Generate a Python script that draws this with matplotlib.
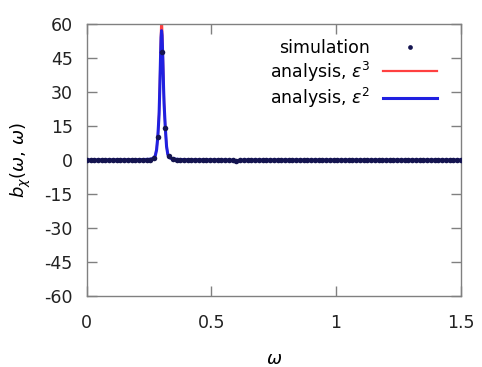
import matplotlib
matplotlib.use("Agg")
import matplotlib.pyplot as plt

# simulation points
sim_omega = [0.0, 0.015, 0.03, 0.045, 0.06, 0.075, 0.09, 0.105, 0.12, 0.135,
             0.15, 0.165, 0.18, 0.195, 0.21, 0.225, 0.24, 0.255, 0.27, 0.285,
             0.3, 0.315, 0.33, 0.345, 0.36, 0.375, 0.39, 0.405, 0.42, 0.435,
             0.45, 0.465, 0.48, 0.495, 0.51, 0.525, 0.54, 0.555, 0.57, 0.585,
             0.6, 0.615, 0.63, 0.645, 0.66, 0.675, 0.69, 0.705, 0.72, 0.735,
             0.75, 0.765, 0.78, 0.795, 0.81, 0.825, 0.84, 0.855, 0.87, 0.885,
             0.9, 0.915, 0.93, 0.945, 0.96, 0.975, 0.99, 1.005, 1.02, 1.035,
             1.05, 1.065, 1.08, 1.095, 1.11, 1.125, 1.14, 1.155, 1.17, 1.185,
             1.2, 1.215, 1.23, 1.245, 1.26, 1.275, 1.29, 1.305, 1.32, 1.335,
             1.35, 1.365, 1.38, 1.395, 1.41, 1.425, 1.44, 1.455, 1.47, 1.485, 1.5]
sim_values = [0, 0, 0, 0, 0, 0, 0, 0, 0, 0,
              0, 0, 0, 0, 0, 0, 0.05, 0.1, 0.8, 10.3,
              47.8, 14.2, 1.6, 0.3, 0.1, 0, 0, 0, 0, 0,
              0, 0, 0, 0, 0, 0, 0, 0, 0, -0.2,
              -0.4, -0.2, 0, 0, 0, 0, 0, 0, 0, 0,
              0, 0, 0, 0, 0, 0, 0, 0, 0, 0,
              0, 0, 0, 0, 0, 0, 0, 0, 0, 0,
              0, 0, 0, 0, 0, 0, 0, 0, 0, 0,
              0, 0, 0, 0, 0, 0, 0, 0, 0, 0,
              0, 0, 0, 0, 0, 0, 0, 0, 0, 0, 0]

# analysis curves
line_omega = [0.0, 0.2, 0.25, 0.26, 0.27, 0.275, 0.28, 0.285, 0.29, 0.293,
              0.296, 0.298, 0.3, 0.302, 0.305, 0.308, 0.31, 0.315, 0.32, 0.325,
              0.33, 0.34, 0.36, 0.4, 0.55, 0.58, 0.59, 0.6, 0.61, 0.62, 0.65, 1.0, 1.5]
eps3_values = [0, 0.1, 0.3, 0.5, 1.0, 2.0, 4.5, 10.3, 21, 34,
               49, 59, 63, 60, 48, 34, 26, 14.2, 6, 2.5,
               1.2, 0.6, 0.3, 0.1, 0, -0.1, -0.3, -0.5, -0.3, -0.1, 0, 0, 0]
eps2_values = [0, 0.1, 0.3, 0.5, 1.0, 2.0, 4.5, 10.3, 20, 32,
               46, 54, 57, 55, 45, 32, 25, 14.2, 6, 2.5,
               1.2, 0.6, 0.3, 0.1, 0, -0.1, -0.3, -0.5, -0.3, -0.1, 0, 0, 0]

x_ticks = [0, 0.5, 1, 1.5]
x_tick_labels = ["0", "0.5", "1", "1.5"]
y_ticks = [-60, -45, -30, -15, 0, 15, 30, 45, 60]

plt.rcParams['font.family'] = ['DejaVu Sans']
plt.rcParams['mathtext.fontset'] = 'dejavusans'
plt.rcParams['axes.unicode_minus'] = False

fig = plt.figure(figsize=(4.82, 3.67), dpi=100)
ax = fig.add_axes([0.180, 0.193, 0.776, 0.742])

ax.plot(line_omega, eps3_values, color='#ff4040', lw=1.6, zorder=2,
        label=r'analysis, $\varepsilon^3$')
ax.plot(line_omega, eps2_values, color='#2020e0', lw=2.2, zorder=3,
        label=r'analysis, $\varepsilon^2$')
ax.plot(sim_omega, sim_values, 'o', color='#141450', ms=4.0, mew=0, zorder=4,
        label='simulation')

ax.set_xlim(0, 1.5)
ax.set_ylim(-60, 60)
ax.set_xticks(x_ticks)
ax.set_xticklabels(x_tick_labels)
ax.set_yticks(y_ticks)
ax.tick_params(direction='in', length=7, width=1, color='#808080',
               top=True, right=True, labelsize=12.5, labelcolor='#222222')
ax.tick_params(axis='x', pad=13)
ax.tick_params(axis='y', pad=10)
for s in ax.spines.values():
    s.set_color('#808080')
    s.set_linewidth(1)

ax.set_xlabel(r'$\omega$', fontsize=13, labelpad=13)
ax.set_ylabel(r'$b_\chi(\omega,\,\omega)$', fontsize=13, labelpad=8)

h, l = ax.get_legend_handles_labels()
order = [2, 0, 1]
leg = ax.legend([h[i] for i in order], [l[i] for i in order], loc='upper right',
                bbox_to_anchor=(0.96, 0.975), frameon=False, markerfirst=False,
                fontsize=12.5, handlelength=3.1, labelspacing=0.12,
                handletextpad=0.75, borderpad=0.5, borderaxespad=0)
leg.legend_handles[0].set_markersize(3.4)

fig.savefig('out.png', dpi=100)
